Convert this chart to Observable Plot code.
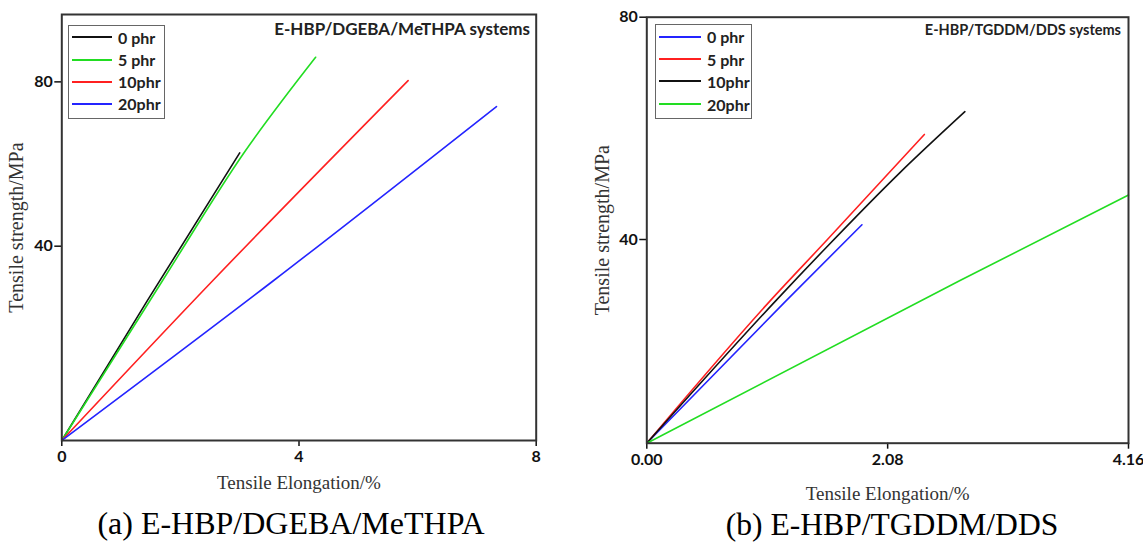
<!DOCTYPE html>
<html><head><meta charset="utf-8">
<script src="https://cdn.jsdelivr.net/npm/d3@7"></script>
<script src="https://cdn.jsdelivr.net/npm/@observablehq/plot@0.6"></script>
<style>
body{margin:0;background:#fff;}
#wrap{position:relative;width:1143px;height:543px;background:#fff;overflow:hidden;}
.panel{position:absolute;top:0;}
.panel svg{overflow:visible;}
g[aria-label="y-axis label"] text, g[aria-label="x-axis label"] text{font-family:"Liberation Serif","DejaVu Serif",serif;font-weight:normal;fill:#333;}
.cap{position:absolute;font-family:"Liberation Serif",serif;color:#000;white-space:nowrap;transform:translateX(-50%);}
.title{position:absolute;font-family:Lato,"Open Sans",sans-serif;font-weight:bold;color:#222;white-space:nowrap;}
.legend{position:absolute;border:1.5px solid #666;box-sizing:border-box;background:#fff;}
.row{position:absolute;left:0;display:flex;align-items:center;font-family:Lato,"Open Sans",sans-serif;font-weight:bold;font-size:16px;color:#222;white-space:nowrap;}
.row i{display:inline-block;height:2px;margin-right:6px;}
</style></head>
<body><div id="wrap"></div>
<script>
// ---- data ----
const seriesNames = ["0 phr", "5 phr", "10phr", "20phr"];
// (a) E-HBP/DGEBA/MeTHPA
const aColors = ["#111111", "#22dd22", "#ff2020", "#2424ff"];
const a0x = [0, 1.445, 3.0];
const a0y = [-7.3, 26.8, 62.7];
const a5x = [0, 1.70, 3.07, 4.28];
const a5y = [-7.3, 31.65, 62.7, 86.0];
const a10x = [0, 2.548, 5.84];
const a10y = [-7.3, 31.65, 80.3];
const a20x = [0, 3.573, 7.33];
const a20y = [-7.3, 31.65, 74.0];
const aXTicks = [0, 4, 8];
const aYTicks = [40, 80];
// (b) E-HBP/TGDDM/DDS
const bColors = ["#2424ff", "#ff2020", "#111111", "#22dd22"];
const b0x = [0, 1.20, 1.858];
const b0y = [3.35, 28.92, 42.66];
const b5x = [0, 1.063, 1.552, 2.397];
const b5y = [3.35, 28.92, 39.82, 58.9];
const b10x = [0, 1.111, 1.552, 2.182, 2.747];
const b10y = [3.35, 28.92, 38.61, 51.95, 63.0];
const b20x = [0, 2.705, 4.16];
const b20y = [3.35, 32.62, 48.0];
const bXTicks = [0, 2.08, 4.16];
const bYTicks = [40, 80];

function rows(name, xs, ys) { return xs.map((x, i) => ({series: name, x, y: ys[i]})); }
const aData = [
  ...rows(seriesNames[0], a0x, a0y), ...rows(seriesNames[1], a5x, a5y),
  ...rows(seriesNames[2], a10x, a10y), ...rows(seriesNames[3], a20x, a20y)];
const bData = [
  ...rows(seriesNames[0], b0x, b0y), ...rows(seriesNames[1], b5x, b5y),
  ...rows(seriesNames[2], b10x, b10y), ...rows(seriesNames[3], b20x, b20y)];

const wrap = document.getElementById("wrap");
const H = 520;

function panel(opts) {
  const p = Plot.plot({
    width: opts.width, height: H,
    marginLeft: opts.ml, marginRight: opts.mr, marginTop: opts.mt, marginBottom: H - opts.bottom,
    style: {fontFamily: "Lato, 'Open Sans', sans-serif", fontSize: "16px", fontWeight: "bold", color: "#111", background: "transparent"},
    x: {domain: opts.xd},
    y: {domain: opts.yd},
    color: {domain: seriesNames, range: opts.colors},
    marks: [
      Plot.line(opts.data, {x: "x", y: "y", z: "series", stroke: "series", strokeWidth: 1.6, curve: "monotone-x"}),
      Plot.axisX({ticks: opts.xt, tickFormat: opts.xf, tickSize: 6, tickPadding: 4, strokeWidth: 1.5,
        fontSize: 16, fontWeight: "bold",
        label: "Tensile Elongation/%", labelAnchor: "center", labelArrow: "none", labelOffset: opts.xlo}),
      Plot.axisY({ticks: opts.yt, tickSize: 7, tickPadding: 2, strokeWidth: 1.5,
        fontSize: 16, fontWeight: "bold",
        label: "Tensile strength/MPa", labelAnchor: "center", labelArrow: "none", labelOffset: opts.ylo}),
      Plot.frame({stroke: "#333", strokeWidth: 2})
    ]
  });
  p.classList.add("panel");
  p.style.left = opts.left + "px";
  wrap.appendChild(p);
  p.querySelectorAll('g[aria-label="y-axis label"] text').forEach(t => t.setAttribute("font-size", "20"));
  p.querySelectorAll('g[aria-label="x-axis label"] text').forEach(t => t.setAttribute("font-size", "19"));
}

panel({left: 0, width: 570, ml: 61.3, mr: 34.3, mt: 14, bottom: 440, xd: [0, 8], yd: [-7.3, 96.4],
  xt: aXTicks, xf: d3.format("d"), yt: aYTicks, colors: aColors, data: aData, xlo: 48, ylo: 53});
panel({left: 570, width: 573, ml: 76.3, mr: 15, mt: 16.7, bottom: 442.7, xd: [0, 4.16], yd: [3.35, 80],
  xt: bXTicks, xf: d3.format(".2f"), yt: bYTicks, colors: bColors, data: bData, xlo: 57, ylo: 52});

function legend(x, y, w, h, colors, rowYs, lineW) {
  const lg = document.createElement("div");
  lg.className = "legend";
  Object.assign(lg.style, {left: x + "px", top: y + "px", width: w + "px", height: h + "px"});
  seriesNames.forEach((n, i) => {
    const r = document.createElement("div");
    r.className = "row";
    r.style.top = (rowYs[i] - y - 10) + "px";
    r.style.height = "20px";
    r.style.left = "3px";
    const sw = document.createElement("i");
    sw.style.width = lineW + "px";
    sw.style.background = colors[i];
    r.appendChild(sw);
    r.appendChild(document.createTextNode(n));
    lg.appendChild(r);
  });
  wrap.appendChild(lg);
}
legend(68, 25, 97, 94, aColors, [36, 58.5, 80.5, 102.5], 40);
legend(655, 23.5, 97, 95.5, bColors, [35.6, 58.1, 80.4, 103.3], 42);

function text(cls, str, css) {
  const d = document.createElement("div");
  d.className = cls; d.textContent = str;
  Object.assign(d.style, css);
  wrap.appendChild(d);
}
text("title", "E-HBP/DGEBA/MeTHPA systems", {right: (1143 - 530) + "px", top: "18px", fontSize: "17px"});
text("title", "E-HBP/TGDDM/DDS systems", {right: (1143 - 1121) + "px", top: "21px", fontSize: "14.5px"});
text("cap", "(a) E-HBP/DGEBA/MeTHPA", {left: "291px", top: "505px", fontSize: "32px"});
text("cap", "(b) E-HBP/TGDDM/DDS", {left: "892px", top: "507px", fontSize: "31.6px"});
</script></body></html>
